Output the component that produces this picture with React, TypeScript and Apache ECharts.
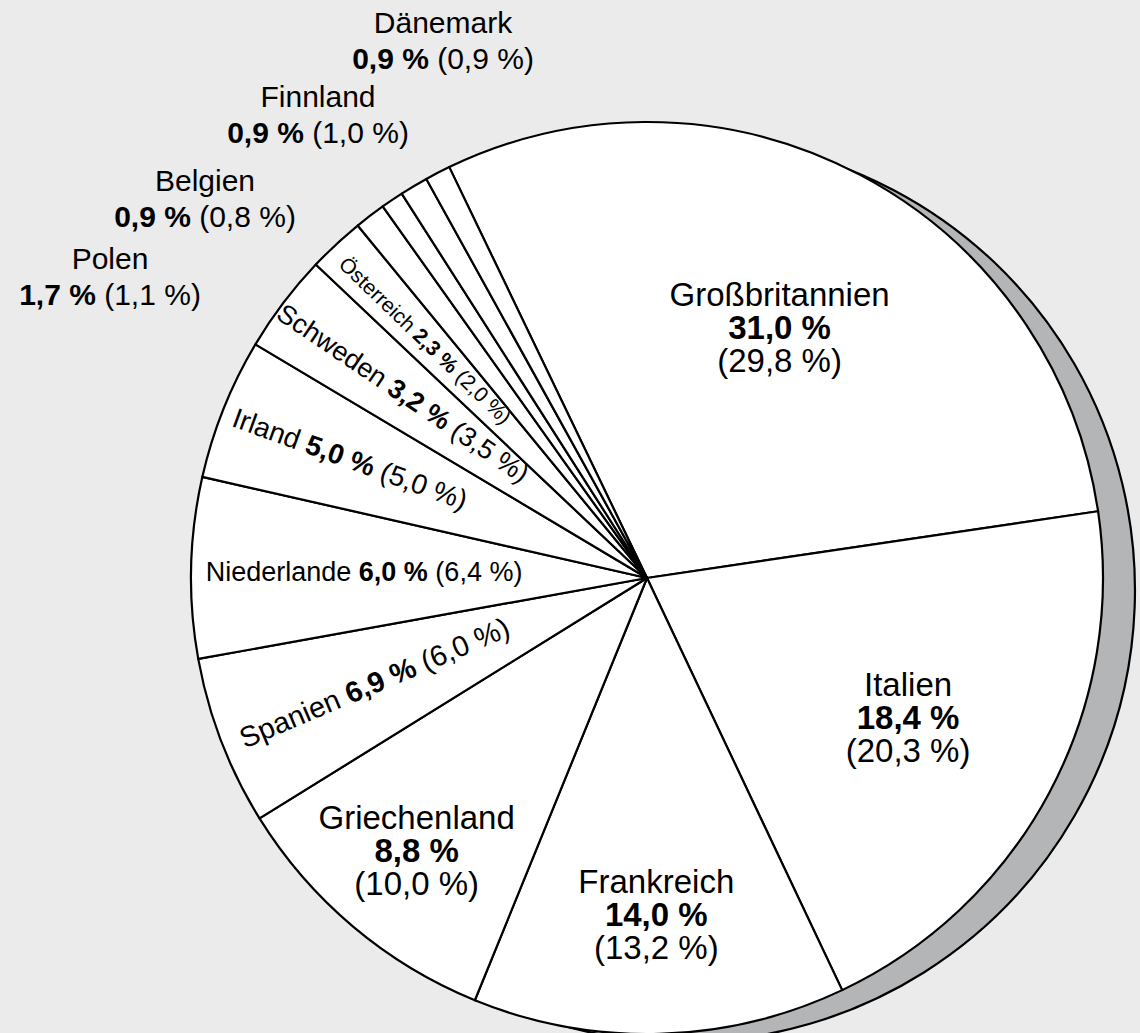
import React, { useEffect, useRef } from 'react';
import * as echarts from 'echarts';

// ---- data ----
const countries = [
  'Großbritannien', 'Italien', 'Frankreich', 'Griechenland', 'Spanien', 'Niederlande',
  'Irland', 'Schweden', 'Österreich', 'Polen', 'Belgien', 'Finnland', 'Dänemark',
];
// bold values
const shares = [31.0, 18.4, 14.0, 8.8, 6.9, 6.0, 5.0, 3.2, 2.3, 1.7, 0.9, 0.9, 0.9];
// values in brackets (these size the slices)
const previousShares = [29.8, 20.3, 13.2, 10.0, 6.0, 6.4, 5.0, 3.5, 2.0, 1.1, 0.8, 1.0, 0.9];

// ---- layout / style ----
const CX = 647;
const CY = 578;
const R = 456;
const START_ANGLE = 115.7;
const FONT = '"Liberation Sans", Arial, Helvetica, sans-serif';
const labelRadius = [283, 296, 337, 357, 292, 283, 320, 306, 325, 0, 0, 0, 0];
const labelRotate = [0, 0, 0, 0, 23, 0, -20, -34, -44, 0, 0, 0, 0];
const labelFont = [33, 33, 33, 33, 29, 27, 28, 27, 21, 30, 30, 30, 30];
const labelLine = [33, 33, 33, 33, 32, 30, 31, 30, 24, 36, 36, 36, 36];
// 0 = three lines, 1 = single line, 2 = two lines (outside)
const labelKind = [0, 0, 0, 0, 1, 1, 1, 1, 1, 2, 2, 2, 2];
const outsidePos: Record<number, [number, number]> = {
  9: [110, 276],
  10: [205, 198],
  11: [318, 114],
  12: [443, 40],
};

const fmt = (v: number) => v.toFixed(1).replace('.', ',') + ' %';

function buildData() {
  return countries.map((name, i) => {
    const f = labelFont[i];
    const lh = labelLine[i];
    const kind = labelKind[i];
    let formatter: string;
    if (kind === 0) formatter = `{n|${name}}\n{b|${fmt(shares[i])}}\n{n|(${fmt(previousShares[i])})}`;
    else if (kind === 1) formatter = `{n|${name}} {b|${fmt(shares[i])}} {n|(${fmt(previousShares[i])})}`;
    else formatter = `{n|${name}}\n{b|${fmt(shares[i])}} {n|(${fmt(previousShares[i])})}`;
    return {
      name,
      value: previousShares[i],
      label: {
        formatter,
        rotate: labelRotate[i],
        fontSize: f,
        lineHeight: lh,
        fontFamily: FONT,
        color: '#000',
        rich: {
          n: { fontSize: f, lineHeight: lh, fontFamily: FONT, color: '#000' },
          b: { fontSize: f, lineHeight: lh, fontFamily: FONT, fontWeight: 'bold', color: '#000' },
        },
      },
    };
  });
}

export default function App() {
  const ref = useRef<HTMLDivElement>(null);
  useEffect(() => {
    document.body.style.margin = '0';
    document.body.style.overflow = 'hidden';
    if (!ref.current) return;
    const chart = echarts.init(ref.current, undefined, { renderer: 'svg' });
    const total = previousShares.reduce((a, b) => a + b, 0);
    chart.setOption({
      animation: false,
      backgroundColor: '#ebebeb',
      series: [
        {
          type: 'pie',
          silent: true,
          center: [683, 590],
          radius: 452,
          label: { show: false },
          labelLine: { show: false },
          emphasis: { disabled: true },
          itemStyle: { color: '#b4b5b7', borderColor: '#000', borderWidth: 2.2 },
          data: [{ value: 1, name: 'shadow' }],
        },
        {
          type: 'pie',
          silent: true,
          center: [CX, CY],
          radius: R,
          startAngle: START_ANGLE,
          clockwise: true,
          emphasis: { disabled: true },
          itemStyle: { color: '#ffffff', borderColor: '#000', borderWidth: 2.2 },
          label: { show: true, position: 'inside', color: '#000', fontFamily: FONT },
          labelLine: { show: false },
          labelLayout: (params: any) => {
            const i = params.dataIndex;
            if (outsidePos[i]) return { x: outsidePos[i][0], y: outsidePos[i][1] };
            let cum = 0;
            for (let j = 0; j < i; j++) cum += previousShares[j];
            const mid = ((START_ANGLE - (360 * (cum + previousShares[i] / 2)) / total) * Math.PI) / 180;
            return {
              x: CX + labelRadius[i] * Math.cos(mid),
              y: CY - labelRadius[i] * Math.sin(mid),
            };
          },
          data: buildData(),
        },
      ],
    });
    return () => chart.dispose();
  }, []);
  return (
    <div
      ref={ref}
      style={{ position: 'absolute', left: 0, top: 0, width: 1140, height: 1033, background: '#ebebeb' }}
    />
  );
}
